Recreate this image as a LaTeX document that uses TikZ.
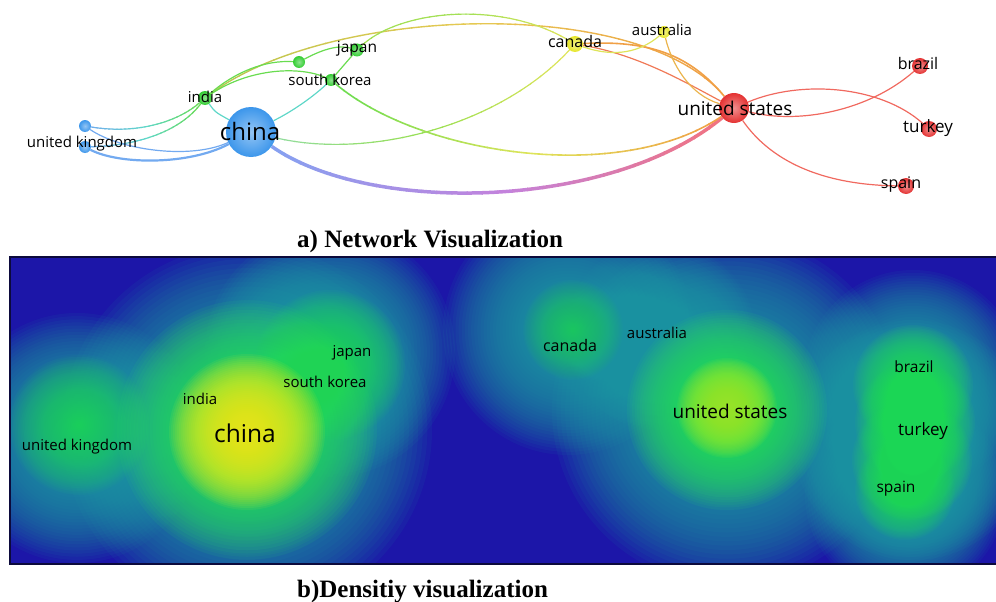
\documentclass[tikz,border=0pt]{standalone}
\usepackage{fontspec}
\setmainfont{Liberation Serif}
\newfontfamily\labelfont{Open Sans}

% cluster colours of the network map
\definecolor{vbl}{RGB}{60,150,235}
\definecolor{vgr}{RGB}{50,205,50}
\definecolor{vye}{RGB}{230,230,40}
\definecolor{vrd}{RGB}{228,50,50}
% link colours
\definecolor{eblue}{RGB}{115,170,240}
\definecolor{eblue2}{RGB}{135,160,240}
\definecolor{eteal}{RGB}{95,215,200}
\definecolor{egreen}{RGB}{105,220,80}
\definecolor{eyellow}{RGB}{222,228,90}
\definecolor{eorange}{RGB}{240,160,70}
\definecolor{ered}{RGB}{240,105,95}
\definecolor{eviolet}{RGB}{195,130,220}
\definecolor{ecoral}{RGB}{240,115,130}
% density colour map
\definecolor{dbg}{RGB}{28,22,168}
\definecolor{dteal}{RGB}{25,158,160}
\definecolor{dgreen}{RGB}{45,232,85}
\definecolor{dyel}{RGB}{245,240,25}
\definecolor{dlime}{RGB}{165,240,40}
\definecolor{dframe}{RGB}{12,10,60}

\pgfdeclarelayer{edges}
\pgfsetlayers{edges,main}

% a link whose colour runs from #4 over #5 to #6 between x = #2 and x = #3
\newcommand\gradedge[7]{%
  \foreach \k in {0,...,29}{%
    \pgfmathtruncatemacro\mixA{100-100*\k/15}%
    \pgfmathtruncatemacro\mixB{100-100*(\k-15)/14}%
    \ifnum\k<15 \edef\ecol{#4!\mixA!#5}\else \edef\ecol{#5!\mixB!#6}\fi
    \begin{scope}
      \clip ({#2+(#3-#2)*\k/30-0.6},-50) rectangle ({#2+(#3-#2)*(\k+1)/30+0.6},650);
      \draw[line width=#7, color=\ecol] #1;
    \end{scope}}}

% a soft density spot: colour #1, centre (#2,#3), outer radius #4, opacity per ring #5
\newcommand\softblob[5]{%
  \foreach \i in {0,...,39}{%
    \fill[#1, fill opacity=#5] (#2,#3) circle ({#4*(1-\i/40)});}}

\tikzset{
  vnode/.style={circle, inner sep=0pt, inner color=#1!55!white, outer color=#1},
  lbl/.style={font=\labelfont\fontsize{15}{15}\selectfont, inner sep=0pt, text=black},
  caption/.style={font=\fontsize{25}{25}\selectfont\bfseries, inner sep=0pt, anchor=base west},
  link/.style={line width=1.2pt},
}

\begin{document}
\begin{tikzpicture}[x=1pt,y=-1pt]
\useasboundingbox (0,0) rectangle (996,602);

% ---------------- network map ----------------
\node[vnode=vbl, minimum size=50pt] (china) at (251,132) {};
\node[vnode=vbl, minimum size=12pt] (ukA) at (85,126) {};
\node[vnode=vbl, minimum size=12pt] (ukB) at (85,147) {};
\node[vnode=vgr, minimum size=14pt] (india) at (205,98) {};
\node[vnode=vgr, minimum size=12pt] (gnode) at (299,62) {};
\node[vnode=vgr, minimum size=12pt] (skorea) at (331,80) {};
\node[vnode=vgr, minimum size=13pt] (japan) at (357,50) {};
\node[vnode=vye, minimum size=16pt] (canada) at (575,44) {};
\node[vnode=vye, minimum size=12pt] (australia) at (664,32) {};
\node[vnode=vrd, minimum size=30pt] (usa) at (734,108) {};
\node[vnode=vrd, minimum size=16pt] (brazil) at (920,66) {};
\node[vnode=vrd, minimum size=16pt] (turkey) at (929,129) {};
\node[vnode=vrd, minimum size=16pt] (spain) at (906,186) {};

\begin{pgfonlayer}{edges}
  \gradedge{(china) .. controls (370,215) and (610,210) .. (usa)}{270}{725}{eblue2}{eviolet}{ecoral}{3.5pt}
  \gradedge{(china) .. controls (370,160) and (500,125) .. (canada)}{275}{570}{eteal}{egreen!60!eyellow}{eyellow}{1.2pt}
  \gradedge{(skorea) .. controls (420,155) and (620,185) .. (usa)}{331}{722}{egreen}{eyellow}{eorange}{1.6pt}
  \gradedge{(india) .. controls (330,5) and (640,-5) .. (usa)}{205}{722}{egreen!60!eyellow}{eyellow!60!eorange}{eorange}{1.4pt}
  \gradedge{(japan) .. controls (400,10) and (500,0) .. (canada)}{357}{575}{egreen}{egreen!50!eyellow}{eyellow}{1.2pt}
  \gradedge{(ukA) .. controls (140,135) and (180,120) .. (india)}{85}{205}{eblue}{eteal}{egreen}{1.2pt}
  \gradedge{(ukB) .. controls (150,145) and (185,125) .. (india)}{85}{205}{eblue}{eteal}{egreen}{1.2pt}
  \draw[link, eblue] (ukA) .. controls (120,150) and (190,160) .. (china);
  \draw[link, eblue, line width=2.2pt] (ukB) .. controls (120,165) and (190,165) .. (china);
  \draw[link, eteal] (india) .. controls (215,112) .. (china);
  \draw[link, eteal] (china) .. controls (295,110) and (315,95) .. (skorea);
  \draw[link, egreen] (skorea) -- (japan);
  \draw[link, egreen] (india) .. controls (235,72) and (265,60) .. (gnode);
  \draw[link, egreen] (india) .. controls (250,68) and (300,66) .. (skorea);
  \draw[link, egreen] (gnode) .. controls (325,48) and (340,45) .. (japan);
  \draw[link, eorange, line width=1.6pt] (canada) .. controls (650,40) and (690,55) .. (usa);
  \draw[link, ered!70!eorange] (canada) .. controls (640,55) and (690,85) .. (usa);
  \draw[link, eyellow] (canada) .. controls (615,58) and (640,52) .. (australia);
  \draw[link, eorange!70!eyellow] (australia) .. controls (672,65) and (690,95) .. (usa);
  \draw[link, ered] (usa) .. controls (800,125) and (870,110) .. (brazil);
  \draw[link, ered] (usa) .. controls (800,80) and (880,85) .. (turkey);
  \draw[link, ered] (usa) .. controls (770,160) and (820,185) .. (spain);
\end{pgfonlayer}

\node[lbl, font=\labelfont\fontsize{24}{24}\selectfont] (chinaL) at (250,131) {china};
\node[lbl] (ukL) at (82,144) {united kingdom};
\node[lbl] (indiaL) at (205,97) {india};
\node[lbl] (skoreaL) at (330,80) {south korea};
\node[lbl, font=\labelfont\fontsize{15.5}{15.5}\selectfont] (japanL) at (357,49) {japan};
\node[lbl, font=\labelfont\fontsize{16}{16}\selectfont] (canadaL) at (575,42) {canada};
\node[lbl] (australiaL) at (662,30) {australia};
\node[lbl, font=\labelfont\fontsize{19}{19}\selectfont] (usaL) at (735,108) {united states};
\node[lbl, font=\labelfont\fontsize{16}{16}\selectfont] (brazilL) at (918,64) {brazil};
\node[lbl, font=\labelfont\fontsize{17}{17}\selectfont] (turkeyL) at (928,128) {turkey};
\node[lbl, font=\labelfont\fontsize{16}{16}\selectfont] (spainL) at (901,185) {spain};

\node[caption] (capA) at (297,247) {a) Network Visualization};

% ---------------- density map ----------------
\fill[dbg] (10,257) rectangle (996,564);
\begin{scope}
  \clip (10,257) rectangle (996,564);
  % low density halo
  \softblob{dteal}{77}{438}{125}{0.07}
  \softblob{dteal}{247}{430}{185}{0.075}
  \softblob{dteal}{330}{352}{125}{0.07}
  \softblob{dteal}{568}{330}{125}{0.07}
  \softblob{dteal}{660}{335}{95}{0.055}
  \softblob{dteal}{727}{410}{175}{0.075}
  \softblob{dteal}{913}{380}{110}{0.07}
  \softblob{dteal}{913}{440}{120}{0.07}
  \softblob{dteal}{905}{495}{100}{0.07}
  % medium density
  \softblob{dgreen}{79}{425}{70}{0.04}
  \softblob{dgreen}{247}{430}{130}{0.065}
  \softblob{dgreen}{330}{365}{75}{0.048}
  \softblob{dgreen}{573}{330}{50}{0.032}
  \softblob{dgreen}{727}{410}{100}{0.065}
  \softblob{dgreen}{913}{385}{60}{0.056}
  \softblob{dgreen}{915}{422}{60}{0.056}
  \softblob{dgreen}{912}{460}{60}{0.056}
  \softblob{dgreen}{905}{490}{50}{0.048}
  % peaks
  \softblob{dyel}{247}{432}{78}{0.075}
  \softblob{dlime}{727}{408}{50}{0.072}
\end{scope}
\draw[dframe, line width=2.5pt] (996,257) -- (10,257) -- (10,564) -- (996,564);

\node[lbl, font=\labelfont\fontsize{24.5}{24.5}\selectfont] (chinaD) at (245,433) {china};
\node[lbl, font=\labelfont\fontsize{19}{19}\selectfont] (usaD) at (730,411) {united states};
\node[lbl] (ukD) at (77,447) {united kingdom};
\node[lbl] (japanD) at (352,353) {japan};
\node[lbl] (skoreaD) at (325,382) {south korea};
\node[lbl] (indiaD) at (200,399) {india};
\node[lbl, font=\labelfont\fontsize{16}{16}\selectfont] (canadaD) at (570,345) {canada};
\node[lbl] (australiaD) at (657,333) {australia};
\node[lbl, font=\labelfont\fontsize{15.5}{15.5}\selectfont] (brazilD) at (914,367) {brazil};
\node[lbl, font=\labelfont\fontsize{17}{17}\selectfont] (turkeyD) at (923,431) {turkey};
\node[lbl, font=\labelfont\fontsize{15.5}{15.5}\selectfont] (spainD) at (896,489) {spain};

\node[caption] (capB) at (297,597) {b)Densitiy visualization};
\end{tikzpicture}
\end{document}
